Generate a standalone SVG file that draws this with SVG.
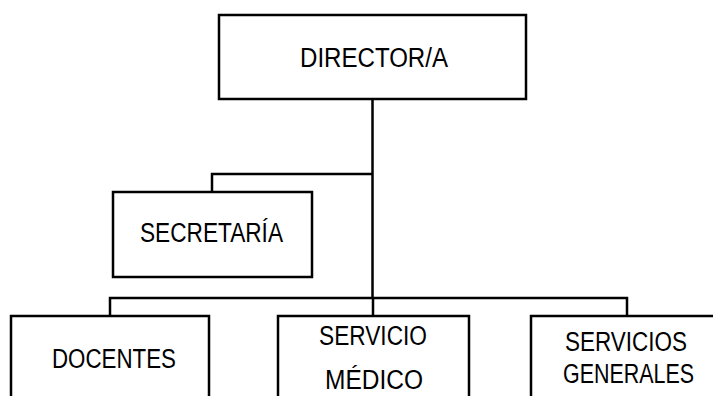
<svg xmlns="http://www.w3.org/2000/svg" width="713" height="396" viewBox="0 0 713 396">
<style>
.box{fill:#fff;stroke:#000;stroke-width:2.5}
.ln{fill:none;stroke:#000;stroke-width:2.5}
text{font-family:"Liberation Sans",Arial,sans-serif;font-size:27px;fill:#000}
</style>
<rect width="713" height="396" fill="#fff"/>
<g id="connectors">
<path class="ln" d="M372.5 99 V298"/>
<path class="ln" d="M372.5 174 H212 V192"/>
<path class="ln" d="M110 316 V298 H627 V316"/>
<path class="ln" d="M373 298 V316"/>
</g>
<g id="director">
<rect class="box" x="219" y="15" width="307" height="84"/>
<text x="300" y="67" textLength="148" lengthAdjust="spacingAndGlyphs">DIRECTOR/A</text>
</g>
<g id="secretaria">
<rect class="box" x="113" y="192" width="199" height="85"/>
<text x="140" y="242" textLength="143" lengthAdjust="spacingAndGlyphs">SECRETARÍA</text>
</g>
<g id="docentes">
<rect class="box" x="11" y="316" width="198" height="90"/>
<text x="52" y="368" textLength="124" lengthAdjust="spacingAndGlyphs">DOCENTES</text>
</g>
<g id="servicio-medico">
<rect class="box" x="278" y="316" width="191" height="90"/>
<text x="319" y="345" textLength="108" lengthAdjust="spacingAndGlyphs">SERVICIO</text>
<text x="325" y="389" textLength="98" lengthAdjust="spacingAndGlyphs">MÉDICO</text>
</g>
<g id="servicios-generales">
<rect class="box" x="531" y="316" width="200" height="90"/>
<text x="565" y="351" textLength="122" lengthAdjust="spacingAndGlyphs">SERVICIOS</text>
<text x="563" y="383" textLength="131" lengthAdjust="spacingAndGlyphs">GENERALES</text>
</g>
</svg>
